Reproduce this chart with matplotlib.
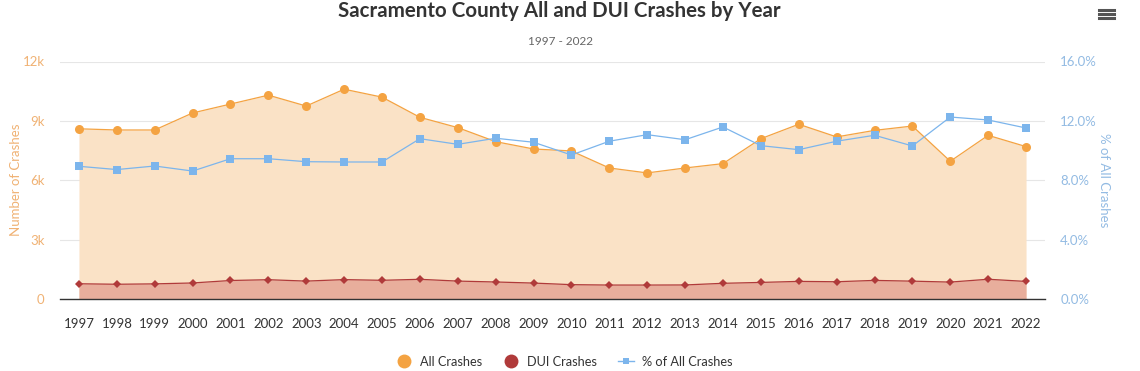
import matplotlib.pyplot as plt
from matplotlib.lines import Line2D
from matplotlib.ticker import FuncFormatter

plt.rcParams['font.family'] = ['Lato', 'DejaVu Sans']

years = [str(y) for y in range(1997, 2023)]
all_crashes = [8600, 8540, 8540, 9400, 9850, 10300, 9750, 10600, 10200, 9180,
               8660, 7950, 7580, 7480, 6620, 6370, 6620, 6840, 8100, 8830,
               8190, 8520, 8740, 6960, 8270, 7700]
dui_crashes = [770, 745, 765, 810, 935, 975, 905, 980, 945, 995,
               905, 860, 805, 725, 705, 705, 710, 793, 838, 890,
               872, 940, 902, 855, 998, 888]
pct_all = [8.94, 8.72, 8.96, 8.62, 9.45, 9.45, 9.25, 9.23, 9.23, 10.80,
           10.42, 10.83, 10.56, 9.70, 10.63, 11.07, 10.73, 11.59, 10.33, 10.06,
           10.63, 11.03, 10.31, 12.26, 12.06, 11.52]

orange = '#F4A342'
red = '#B03A3A'
blue = '#7CB5EC'

fig = plt.figure(figsize=(11.4, 3.71), dpi=100)
ax = fig.add_axes([60 / 1140, 72 / 371, 985 / 1140, 237.5 / 371])
x = list(range(len(years)))

# 面积 + 折线
ax.fill_between(x, 0, all_crashes, color='#FAE2C6', zorder=1, linewidth=0)
ax.fill_between(x, 0, dui_crashes, color='#E8AE9C', zorder=2, linewidth=0)
ax.plot(x, all_crashes, color=orange, lw=0.9, marker='o', ms=6.5,
        markeredgewidth=0, zorder=4)
ax.plot(x, dui_crashes, color=red, lw=0.9, marker='D', ms=4.2,
        markeredgewidth=0, zorder=4)

ax.set_xlim(-0.5, len(years) - 0.5)
ax.set_ylim(0, 12000)
ax.set_yticks([0, 3000, 6000, 9000, 12000])
ax.yaxis.set_major_formatter(FuncFormatter(lambda v, p: '0' if v == 0 else f'{int(v / 1000)}k'))
ax.set_xticks(x)
ax.set_xticklabels(years)
ax.grid(axis='y', color='#E6E6E6', lw=0.8, zorder=0)
ax.set_axisbelow(True)
for s in ['top', 'right', 'left']:
    ax.spines[s].set_visible(False)
ax.spines['bottom'].set_color('#333333')
ax.spines['bottom'].set_linewidth(1.0)
ax.tick_params(axis='x', length=0, pad=14, labelsize=9.5, labelcolor='#333333')
ax.tick_params(axis='y', length=0, pad=11, labelsize=9.5, labelcolor='#F0B274')
ax.set_ylabel('Number of Crashes', color='#F0B274', fontsize=9.5)
ax.yaxis.set_label_coords(-0.039, 0.5)

ax2 = ax.twinx()
ax2.plot(x, pct_all, color=blue, lw=0.9, marker='s', ms=5.5,
         markeredgewidth=0, zorder=5)
ax2.set_ylim(0, 16)
ax2.set_yticks([0, 4, 8, 12, 16])
ax2.yaxis.set_major_formatter(FuncFormatter(lambda v, p: f'{v:.1f}%'))
for s in ['top', 'right', 'left', 'bottom']:
    ax2.spines[s].set_visible(False)
ax2.tick_params(axis='y', length=0, pad=11, labelsize=9.5, labelcolor='#93BBE3')
ax2.set_ylabel('% of All Crashes', color='#93BBE3', fontsize=9.5, rotation=270)
ax2.yaxis.set_label_coords(1.066, 0.5)

fig.text(0.491, 0.97, 'Sacramento County All and DUI Crashes by Year', ha='center',
         va='center', fontsize=14.8, fontweight='bold', color='#333333')
fig.text(0.492, 0.889, '1997 - 2022', ha='center', va='center', fontsize=8.5, color='#666666')

# 菜单图标
for yy in [0.951, 0.962, 0.973]:
    fig.add_artist(Line2D([1099 / 1140, 1114 / 1140], [yy, yy], color='#555555', lw=2.2))

handles = [
    Line2D([], [], color=orange, marker='o', ms=10, lw=0, markeredgewidth=0),
    Line2D([], [], color=red, marker='o', ms=10, lw=0, markeredgewidth=0),
    Line2D([], [], color=blue, marker='s', ms=5, lw=1, markeredgewidth=0),
]
fig.legend(handles, ['All Crashes', 'DUI Crashes', '% of All Crashes'],
           loc='center', bbox_to_anchor=(0.495, 0.025), ncol=3, frameon=False,
           fontsize=9.2, handlelength=1.3, handletextpad=0.6, columnspacing=1.6,
           labelcolor='#333333')

fig.savefig('out.png', dpi=100)
